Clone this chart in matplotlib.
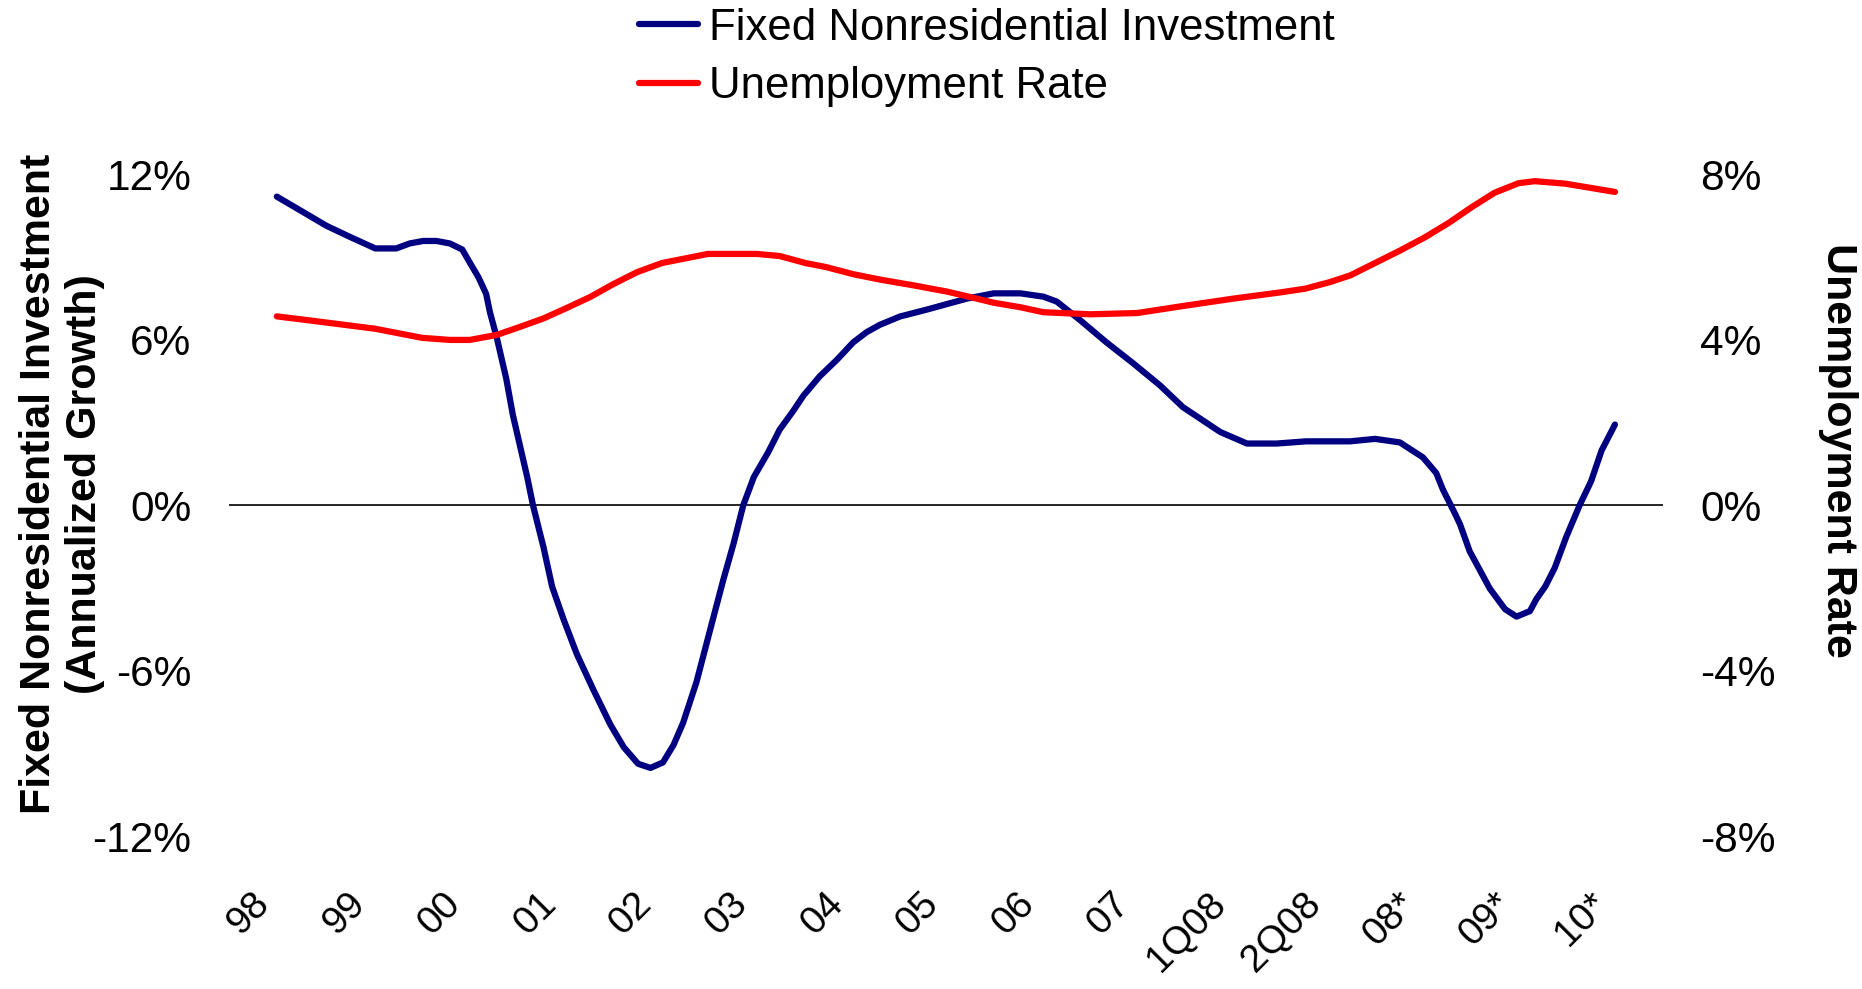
import matplotlib.pyplot as plt
from matplotlib.ticker import FuncFormatter

plt.rcParams['font.family'] = ['Liberation Sans', 'DejaVu Sans']

# category axis (one label per slot, line points sit at fractional slots)
categories = ['98', '99', '00', '01', '02', '03', '04', '05', '06', '07',
              '1Q08', '2Q08', '08*', '09*', '10*']

# Fixed nonresidential investment, annualized growth (%), left axis
inv_x = [0.0, 0.26, 0.52, 0.77, 1.03, 1.25, 1.39, 1.53, 1.67, 1.81, 1.94,
         2.02, 2.11, 2.19, 2.23, 2.30, 2.40, 2.47, 2.55, 2.62, 2.68, 2.79,
         2.88, 3.00, 3.14, 3.31, 3.49, 3.63, 3.78, 3.91, 4.04, 4.15, 4.25,
         4.39, 4.55, 4.67, 4.78, 4.88, 4.99, 5.14, 5.26, 5.40, 5.51, 5.68,
         5.86, 6.03, 6.17, 6.31, 6.52, 6.80, 7.22, 7.50, 7.78, 8.02, 8.16,
         8.40, 8.68, 8.96, 9.24, 9.48, 9.87, 10.15, 10.46, 10.77, 11.23,
         11.49, 11.75, 11.99, 12.13, 12.20, 12.33, 12.38, 12.48, 12.69,
         12.85, 12.97, 13.11, 13.18, 13.27, 13.37, 13.49, 13.63, 13.75,
         13.86, 14.0]
inv_y = [11.2, 10.67, 10.14, 9.73, 9.32, 9.32, 9.5, 9.59, 9.59, 9.5, 9.28,
         8.8, 8.27, 7.67, 7.0, 6.1, 4.6, 3.27, 2.07, 1.02, 0.0, -1.52,
         -2.95, -4.14, -5.41, -6.68, -7.96, -8.78, -9.38, -9.53, -9.33, -8.7, -7.9,
         -6.42, -4.3, -2.72, -1.37, 0.0, 1.02, 1.92, 2.74, 3.41, 3.98, 4.68,
         5.28, 5.91, 6.28, 6.55, 6.85, 7.1, 7.5, 7.69, 7.69, 7.57, 7.39,
         6.73, 5.91, 5.15, 4.35, 3.56, 2.66, 2.24, 2.24, 2.32, 2.32,
         2.41, 2.28, 1.74, 1.17, 0.57, -0.33, -0.7, -1.67, -3.02,
         -3.77, -4.04, -3.84, -3.39, -2.95, -2.27, -1.15, 0.0, 0.87,
         1.99, 2.93]

# Unemployment rate (%), right axis
unemp_x = [0.0, 0.52, 1.03, 1.52, 1.81, 2.02, 2.30, 2.55, 2.79, 3.03, 3.28,
           3.52, 3.77, 4.03, 4.51, 5.02, 5.26, 5.53, 5.75, 6.03, 6.31, 6.66,
           7.01, 7.25, 7.50, 7.78, 8.02, 8.51, 9.0, 9.48, 10.01, 10.50, 10.76,
           11.02, 11.23, 11.49, 11.75, 12.01, 12.26, 12.50, 12.74, 12.99,
           13.16, 13.48, 14.0]
unemp_y = [4.57, 4.42, 4.27, 4.05, 4.0, 4.0, 4.12, 4.32, 4.52, 4.77, 5.04,
           5.35, 5.64, 5.86, 6.08, 6.08, 6.03, 5.86, 5.76, 5.59, 5.46, 5.32,
           5.17, 5.04, 4.9, 4.79, 4.67, 4.62, 4.65, 4.82, 5.0, 5.15, 5.24,
           5.40, 5.56, 5.86, 6.16, 6.48, 6.83, 7.21, 7.56, 7.79,
           7.84, 7.78, 7.58]

left_ticks = [-12, -6, 0, 6, 12]
right_ticks = [-8, -4, 0, 4, 8]

pct = FuncFormatter(lambda v, pos: '%d%%' % v)

fig = plt.figure(figsize=(18.62, 9.89), dpi=100)
ax = fig.add_axes([0.123, 0.1547, 0.770, 0.6688])
ax2 = ax.twinx()

ax.axhline(0, color='black', lw=1.2, zorder=1)
l1, = ax.plot(inv_x, inv_y, color='#000080', lw=4.5, solid_capstyle='round',
              solid_joinstyle='round', label='Fixed Nonresidential Investment',
              zorder=3)
l2, = ax2.plot(unemp_x, unemp_y, color='#ff0000', lw=4.5, solid_capstyle='round',
               solid_joinstyle='round', label='Unemployment Rate', zorder=3)

ax.set_xlim(-0.5, 14.5)
ax.set_ylim(-12, 12)
ax2.set_ylim(-8, 8)

ax.set_yticks(left_ticks)
ax2.set_yticks(right_ticks)
ax.yaxis.set_major_formatter(pct)
ax2.yaxis.set_major_formatter(pct)

ax.set_xticks(range(len(categories)))
ax.set_xticklabels(categories, rotation=45, ha='right', va='top', fontsize=28)

ax.tick_params(axis='x', length=0, pad=36)
ax.tick_params(axis='y', length=0, pad=27, labelsize=30.5)
ax2.tick_params(axis='y', length=0, pad=27, labelsize=30.5)

for a in (ax, ax2):
    for s in a.spines.values():
        s.set_visible(False)

fig.text(0.0335, 0.5106, 'Fixed Nonresidential Investment\n(Annualized Growth)',
         rotation=90, ha='center', va='center', multialignment='center',
         fontsize=31, fontweight='bold')
fig.text(0.987, 0.545, 'Unemployment Rate', rotation=-90, ha='center',
         va='center', fontsize=31, fontweight='bold')

fig.legend([l1, l2], [l1.get_label(), l2.get_label()], loc='center',
           bbox_to_anchor=(0.530, 0.942), frameon=False, fontsize=31.5,
           handlelength=1.37, handletextpad=0.25, labelspacing=0.4,
           borderpad=0, borderaxespad=0)

fig.savefig('out.png', dpi=100)
